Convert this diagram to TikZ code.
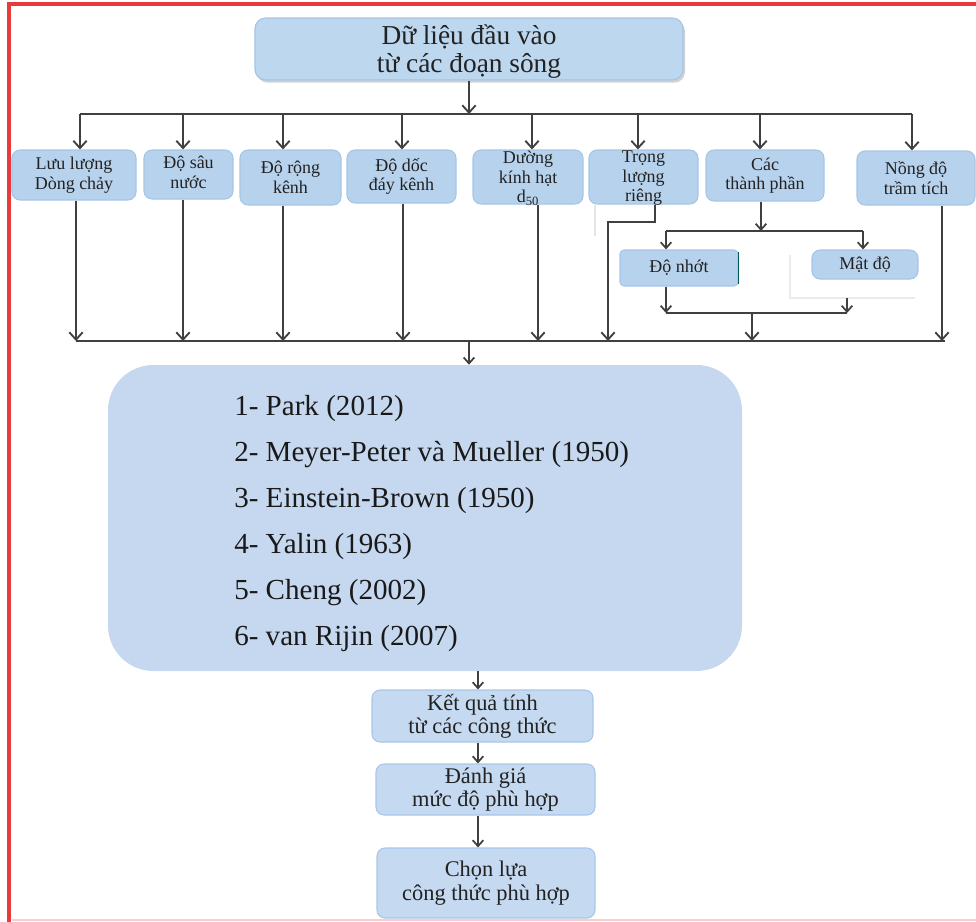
\documentclass[tikz,border=0pt]{standalone}
\usepackage{fontspec}
\setmainfont{Liberation Serif}
\usetikzlibrary{arrows.meta,fit,shadows}
\definecolor{topfill}{HTML}{BDD7EE}
\definecolor{topline}{HTML}{A3C4E6}
\definecolor{smfill}{HTML}{B7D2EC}
\definecolor{smline}{HTML}{A6C5E6}
\definecolor{bigfill}{HTML}{C6D8EF}
\definecolor{botfill}{HTML}{C5D9F1}
\definecolor{botline}{HTML}{A9C6E8}
\definecolor{framered}{HTML}{E8393B}
\definecolor{linegray}{HTML}{404040}
\definecolor{txt}{HTML}{222222}
\begin{document}
\begin{tikzpicture}[x=0.75pt,y=-0.75pt,
  ln/.style={draw=linegray, line width=1.4pt},
  arr/.style={ln, -{Straight Barb[length=5.5pt,width=10pt,line width=1.4pt]}},
  arrs/.style={ln, -{Straight Barb[length=4.5pt,width=8pt,line width=1.3pt]}},
  topbox/.style={draw=topline, line width=0.8pt, fill=topfill, rounded corners=8pt, inner sep=0pt,
    drop shadow={shadow xshift=1.5pt, shadow yshift=-2pt, fill=black!35, opacity=0.5}},
  toptxt/.style={align=center, text=txt, inner sep=0pt, font=\fontsize{20.5}{21}\selectfont},
  smbox/.style={draw=smline, line width=0.8pt, fill=smfill, rounded corners=6pt, inner sep=0pt},
  smtxt/.style={align=center, text=txt, inner sep=0pt, font=\fontsize{13.5}{14.6}\selectfont},
  bigbox/.style={fill=bigfill, rounded corners=34pt, inner sep=0pt},
  botbox/.style={draw=botline, line width=0.8pt, fill=botfill, rounded corners=6pt, inner sep=0pt},
  bottxt/.style={align=center, text=txt, inner sep=0pt, font=\fontsize{16.8}{17.5}\selectfont}
]
\useasboundingbox (0,0) rectangle (976,922);
% frame
\draw[framered, line width=2.4pt] (976,4) -- (9,4) -- (9,922);
\draw[framered!25, line width=1pt] (12,920) -- (976,920);

% top box
\node[topbox, fit={(255,18) (683,80)}] (top) {};
\node[toptxt] at ([yshift=-2pt]top.center) {Dữ liệu đầu vào\\từ các đoạn sông};

% row of input boxes
\node[smbox, fit={(12,150) (136,200)}] (luu) {};
\node[smtxt] at (luu) {Lưu lượng\\Dòng chảy};
\node[smbox, fit={(144,150) (233,199)}] (sau) {};
\node[smtxt] at ([yshift=1.5pt]sau.center) {Độ sâu\\nước};
\node[smbox, fit={(240,150) (341,205)}] (rong) {};
\node[smtxt] at (rong) {Độ rộng\\kênh};
\node[smbox, fit={(347,150) (456,203)}] (doc) {};
\node[smtxt] at (doc) {Độ dốc\\đáy kênh};
\node[smbox, fit={(473,150) (583,204)}] (duong) {};
\node[smtxt] at ([yshift=-1pt]duong.center) {Dường\\kính hạt\\d\textsubscript{50}};
\node[smbox, fit={(589,150) (698,204)}] (trong) {};
\node[smtxt] at ([yshift=-1pt]trong.center) {Trọng\\lượng\\riêng};
\node[smbox, fit={(706,150) (824,201)}] (cac) {};
\node[smtxt] at (cac) {Các\\thành phần};
\node[smbox, fit={(857,151) (975,205)}] (nong) {};
\node[smtxt] at (nong) {Nồng độ\\trầm tích};

% sub boxes
\node[smbox, rounded corners=3pt, fit={(620,250) (738,286)}] (nhot) {};
\node[smtxt] at (nhot) {Độ nhớt};
\draw[teal!70!black, line width=1pt] ([yshift=-2pt]nhot.north east) -- ([yshift=2pt]nhot.south east);
\node[smbox, fit={(812,250) (918,279)}] (matdo) {};
\node[smtxt] at (matdo) {Mật độ};

% faint artifacts
\draw[black!10, line width=0.8pt] (595,205) -- (595,236);
\draw[black!8, line width=0.8pt] (790,255) -- (790,298) -- (915,298);

% big formula box
\node[bigbox, fit={(108,365) (742,671)}] (big) {};
\node[anchor=north west, align=left, text=black!90, inner sep=0pt,
  font=\fontsize{21.8}{34.5}\selectfont] (list) at (234,395)
  {1- Park (2012)\\2- Meyer-Peter và Mueller (1950)\\3- Einstein-Brown (1950)\\4- Yalin (1963)\\5- Cheng (2002)\\6- van Rijin (2007)};

% bottom boxes
\node[botbox, fit={(372,690) (593,742)}] (ket) {};
\node[bottxt] at (ket) {Kết quả tính\\từ các công thức};
\node[botbox, fit={(376,764) (595,815)}] (danh) {};
\node[bottxt] at (danh) {Đánh giá\\mức độ phù hợp};
\node[botbox, fit={(377,848) (595,918)}] (chon) {};
\node[bottxt] at (chon) {Chọn lựa\\công thức phù hợp};

% top bus
\coordinate (tb) at (469,114);
\draw[ln] (80,114) -- (912,114);
\draw[arr] (top.south -| tb) -- (tb);
\foreach \x/\n in {80/luu,183/sau,283/rong,402/doc,532/duong,638/trong,760/cac,912/nong}{
  \coordinate (d\n) at (\x,114);
  \draw[arr] (d\n) -- (d\n |- \n.north);
}

% bottom bus
\coordinate (bb) at (469,341);
\draw[ln] (76,341) -- (945,341);
\foreach \x/\n in {76/luu,183/sau,283/rong,403/doc,538/duong,942/nong}{
  \coordinate (u\n) at (\x,341);
  \draw[arr] (u\n |- \n.south) -- (u\n);
}
% Trong luong riêng path
\coordinate (tr1) at (655,222);
\coordinate (tr2) at (608,222);
\coordinate (tr3) at (608,341);
\draw[arr] (tr1 |- trong.south) -- (tr1) -- (tr2) -- (tr3);

% Các thành phần split
\coordinate (cs) at (761,231);
\coordinate (s1) at (666,231);
\coordinate (s2) at (863,231);
\draw[arrs] (cs |- cac.south) -- (cs);
\draw[ln] (s1) -- (s2);
\draw[arrs] (s1) -- (s1 |- nhot.north);
\draw[arrs] (s2) -- (s2 |- matdo.north);

% merge
\coordinate (m1) at (666,313);
\coordinate (m2) at (847,313);
\coordinate (md0) at (847,298);
\coordinate (mc) at (752,313);
\coordinate (mb) at (752,341);
\draw[arrs] (m1 |- nhot.south) -- (m1);
\draw[arrs] (md0) -- (m2);
\draw[ln] (m1) -- (m2);
\draw[arr] (mc) -- (mb);

% to big box
\draw[arrs] (bb) -- (bb |- big.north);
% downwards chain
\coordinate (cx) at (478,0);
\draw[arrs] (cx |- big.south) -- (cx |- ket.north);
\draw[arrs] (cx |- ket.south) -- (cx |- danh.north);
\draw[arrs] (cx |- danh.south) -- (cx |- chon.north);
\end{tikzpicture}
\end{document}
